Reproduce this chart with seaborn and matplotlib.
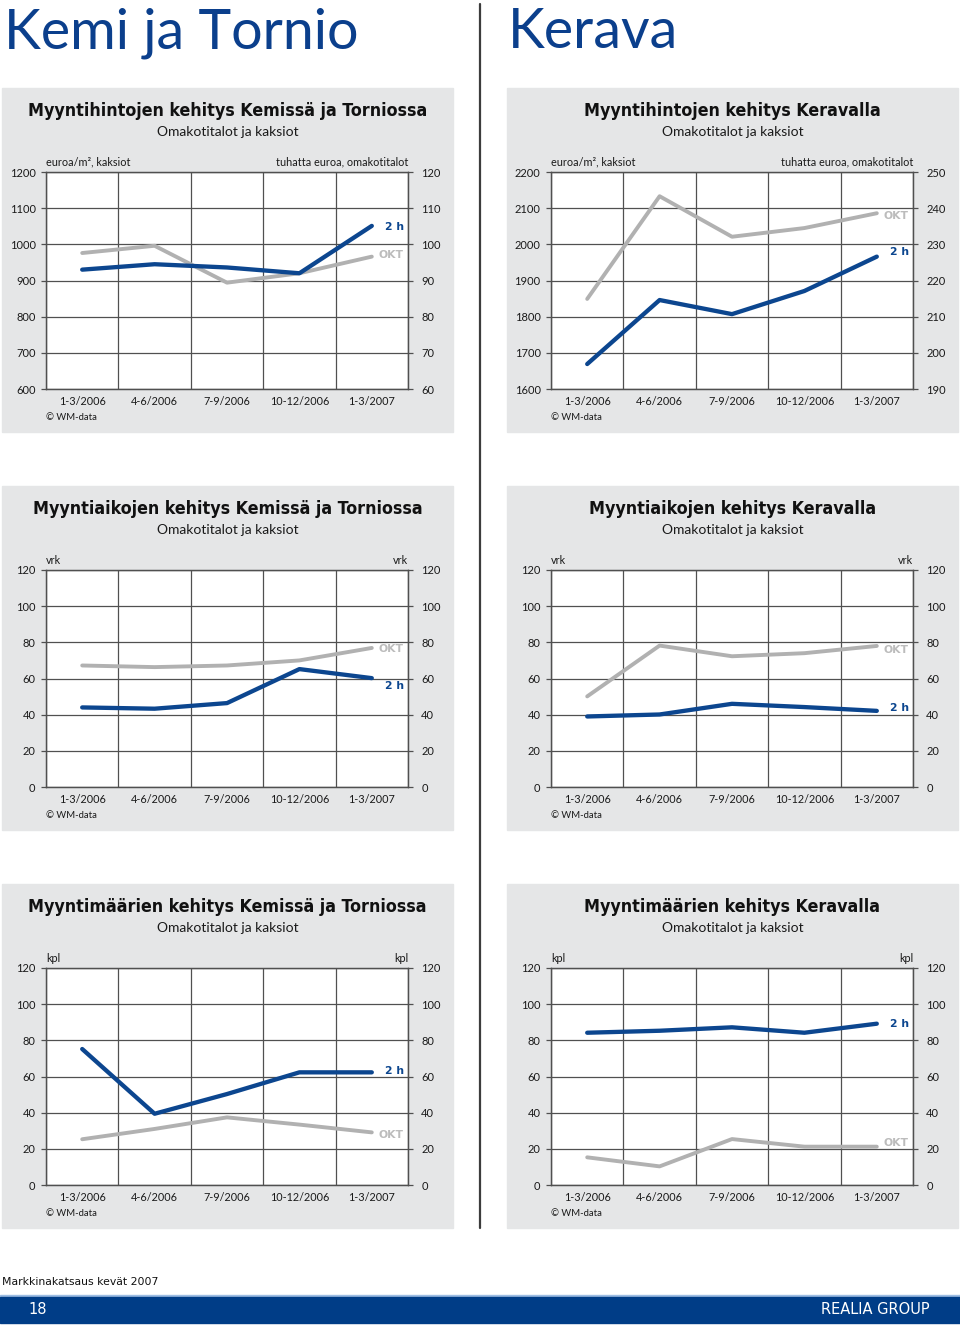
import numpy as np
import matplotlib.pyplot as plt
import seaborn as sns
from matplotlib.patches import Rectangle
from matplotlib.lines import Line2D

sns.set_style("white")
plt.rcParams['font.family'] = ['Lato', 'DejaVu Sans']

# ---------------------------------------------------------------- data
periods = ["1-3/2006", "4-6/2006", "7-9/2006", "10-12/2006", "1-3/2007"]

price_kemi_2h = [930, 945, 936, 920, 1051]
price_kemi_okt = [97.6, 99.6, 89.4, 92.0, 96.6]
price_kerava_2h = [1669, 1846, 1807, 1871, 1966]
price_kerava_okt = [214.9, 243.3, 232.1, 234.5, 238.6]

time_kemi_2h = [44.0, 43.3, 46.4, 65.2, 60.2]
time_kemi_okt = [67.2, 66.3, 67.2, 70.0, 76.9]
time_kerava_2h = [39.0, 40.1, 46.0, 44.2, 42.1]
time_kerava_okt = [50.1, 78.2, 72.3, 74.0, 78.0]

count_kemi_2h = [75.2, 39.4, 50.3, 62.3, 62.3]
count_kemi_okt = [25.3, 31.0, 37.4, 33.4, 29.1]
count_kerava_2h = [84.2, 85.3, 87.2, 84.2, 89.2]
count_kerava_okt = [15.3, 10.3, 25.4, 21.2, 21.2]

# ---------------------------------------------------------------- style
BLUE = "#0c468f"
TITLE_BLUE = "#0b3f8c"
GREY_LINE = "#b1b1b1"
GRID = "#505050"
BOX = "#e5e6e7"
TXT = "#1a1a1a"
BOLD_FONT = ['DejaVu Sans']

W, H = 960, 1327
fig = plt.figure(figsize=(W / 100, H / 100), dpi=100)
fig.patch.set_facecolor("white")


def rect(x, y, w, h):
    return [x / W, 1 - (y + h) / H, w / W, h / H]


def ftext(x, y, s, **kw):
    fig.text(x / W, 1 - y / H, s, **kw)


charts = [
    # (col, row, title, left unit, right unit, 2h vals, okt vals, 2h range, okt range, label y 2h, label y okt)
    (0, 0, "Myyntihintojen kehitys Kemissä ja Torniossa", "euroa/m², kaksiot", "tuhatta euroa, omakotitalot",
     price_kemi_2h, price_kemi_okt, (600, 1200, 100), (60, 120, 10), 1048, 97.0),
    (1, 0, "Myyntihintojen kehitys Keravalla", "euroa/m², kaksiot", "tuhatta euroa, omakotitalot",
     price_kerava_2h, price_kerava_okt, (1600, 2200, 100), (190, 250, 10), 1979, 237.8),
    (0, 1, "Myyntiaikojen kehitys Kemissä ja Torniossa", "vrk", "vrk",
     time_kemi_2h, time_kemi_okt, (0, 120, 20), (0, 120, 20), 55.6, 76.5),
    (1, 1, "Myyntiaikojen kehitys Keravalla", "vrk", "vrk",
     time_kerava_2h, time_kerava_okt, (0, 120, 20), (0, 120, 20), 43.5, 76.0),
    (0, 2, "Myyntimäärien kehitys Kemissä ja Torniossa", "kpl", "kpl",
     count_kemi_2h, count_kemi_okt, (0, 120, 20), (0, 120, 20), 63.0, 27.6),
    (1, 2, "Myyntimäärien kehitys Keravalla", "kpl", "kpl",
     count_kerava_2h, count_kerava_okt, (0, 120, 20), (0, 120, 20), 89.0, 23.2),
]

box_left = [2, 507]
box_top = [88, 486, 884]
pos = np.arange(len(periods))

for col, row, title, lunit, runit, v2h, vokt, r2h, rokt, ly2h, lyokt in charts:
    bx, by = box_left[col], box_top[row]
    fig.add_artist(Rectangle((bx / W, 1 - (by + 344) / H), 451 / W, 344 / H,
                             transform=fig.transFigure, color=BOX, zorder=0))
    cx = bx + 225.5
    ftext(cx, by + 23, title, ha="center", va="center", fontsize=12.8, fontweight="bold",
          fontstretch="condensed", family=BOLD_FONT, color="#111111")
    ftext(cx, by + 44, "Omakotitalot ja kaksiot", ha="center", va="center", fontsize=10, color=TXT)

    pl, pt, pw, ph = bx + 44, by + 84, 362, 217
    ax = fig.add_axes(rect(pl, pt, pw, ph))
    ax.set_facecolor("white")

    # OKT on primary axis (right scale), 2h on twin (left scale, drawn on top)
    sns.lineplot(x=pos, y=vokt, ax=ax, color=GREY_LINE, linewidth=2.8, solid_capstyle="round")
    tw = ax.twinx()
    sns.lineplot(x=pos, y=v2h, ax=tw, color=BLUE, linewidth=3.1, solid_capstyle="round")
    ax.yaxis.tick_right()
    tw.yaxis.tick_left()

    ax.set_xlim(-0.5, len(periods) - 0.5)
    ax.set_ylim(rokt[0], rokt[1])
    ax.set_yticks(list(range(rokt[0], rokt[1] + 1, rokt[2])))
    tw.set_ylim(r2h[0], r2h[1])
    tw.set_yticks(list(range(r2h[0], r2h[1] + 1, r2h[2])))
    ax.set_xticks(pos)
    ax.set_xticklabels(periods)
    ax.set_xticks(np.arange(-0.5, len(periods)), minor=True)
    ax.set_xlabel("")
    ax.set_ylabel("")
    tw.set_ylabel("")

    ax.grid(True, axis="y", which="major", color=GRID, linewidth=0.9)
    ax.grid(True, axis="x", which="minor", color=GRID, linewidth=0.9)
    ax.grid(False, axis="x", which="major")

    ax.tick_params(axis="x", which="major", length=0, pad=5, labelsize=7.8, labelcolor=TXT)
    ax.tick_params(axis="x", which="minor", length=4, width=0.9, color=GRID, direction="out")
    ax.tick_params(axis="y", length=3.5, width=0.9, color=GRID, direction="out", pad=6,
                   labelsize=8, labelcolor=TXT)
    tw.tick_params(axis="y", length=3.5, width=0.9, color=GRID, direction="out", pad=4,
                   labelsize=8, labelcolor=TXT)
    for a in (ax, tw):
        for s in a.spines.values():
            s.set_color(GRID)
            s.set_linewidth(0.9)

    last = len(periods) - 1 + 0.44
    tw.text(last, ly2h, "2 h", ha="right", va="center", fontsize=7.8, fontweight="bold",
            family=BOLD_FONT, color=BLUE)
    ax.text(last, lyokt, "OKT", ha="right", va="center", fontsize=7.8, fontweight="bold",
            family=BOLD_FONT, color="#bcbcbc")

    ftext(pl, pt - 10, lunit, ha="left", va="center", fontsize=7.8, color=TXT)
    ftext(pl + pw, pt - 10, runit, ha="right", va="center", fontsize=7.8, color=TXT)
    ftext(pl, by + 330, "© WM-data", ha="left", va="center", fontsize=6.8, color=TXT)

# page headers
ftext(4, 33, "Kemi ja Tornio", ha="left", va="center", fontsize=40, color=TITLE_BLUE)
ftext(508, 33, "Kerava", ha="left", va="center", fontsize=40, color=TITLE_BLUE)

# column separator
fig.add_artist(Line2D([480 / W, 480 / W], [1 - 4 / H, 1 - 1228 / H], transform=fig.transFigure,
                      color="#3c3c3c", linewidth=1.6))

# footer
ftext(2, 1282, "Markkinakatsaus kevät 2007", ha="left", va="center", fontsize=7.8,
      family="DejaVu Sans", color="#111111")
fig.add_artist(Rectangle((0, 1 - 1297 / H), 1, 2 / H, transform=fig.transFigure,
                         color="#9dbde3", zorder=1))
fig.add_artist(Rectangle((0, 1 - 1323 / H), 1, 26 / H, transform=fig.transFigure,
                         color="#003d87", zorder=1))
ftext(28, 1310, "18", ha="left", va="center", fontsize=10.5, family="DejaVu Sans", color="white")
ftext(930, 1310, "REALIA GROUP", ha="right", va="center", fontsize=10.5, family="DejaVu Sans",
      color="white")

fig.savefig("out.png", dpi=100)
